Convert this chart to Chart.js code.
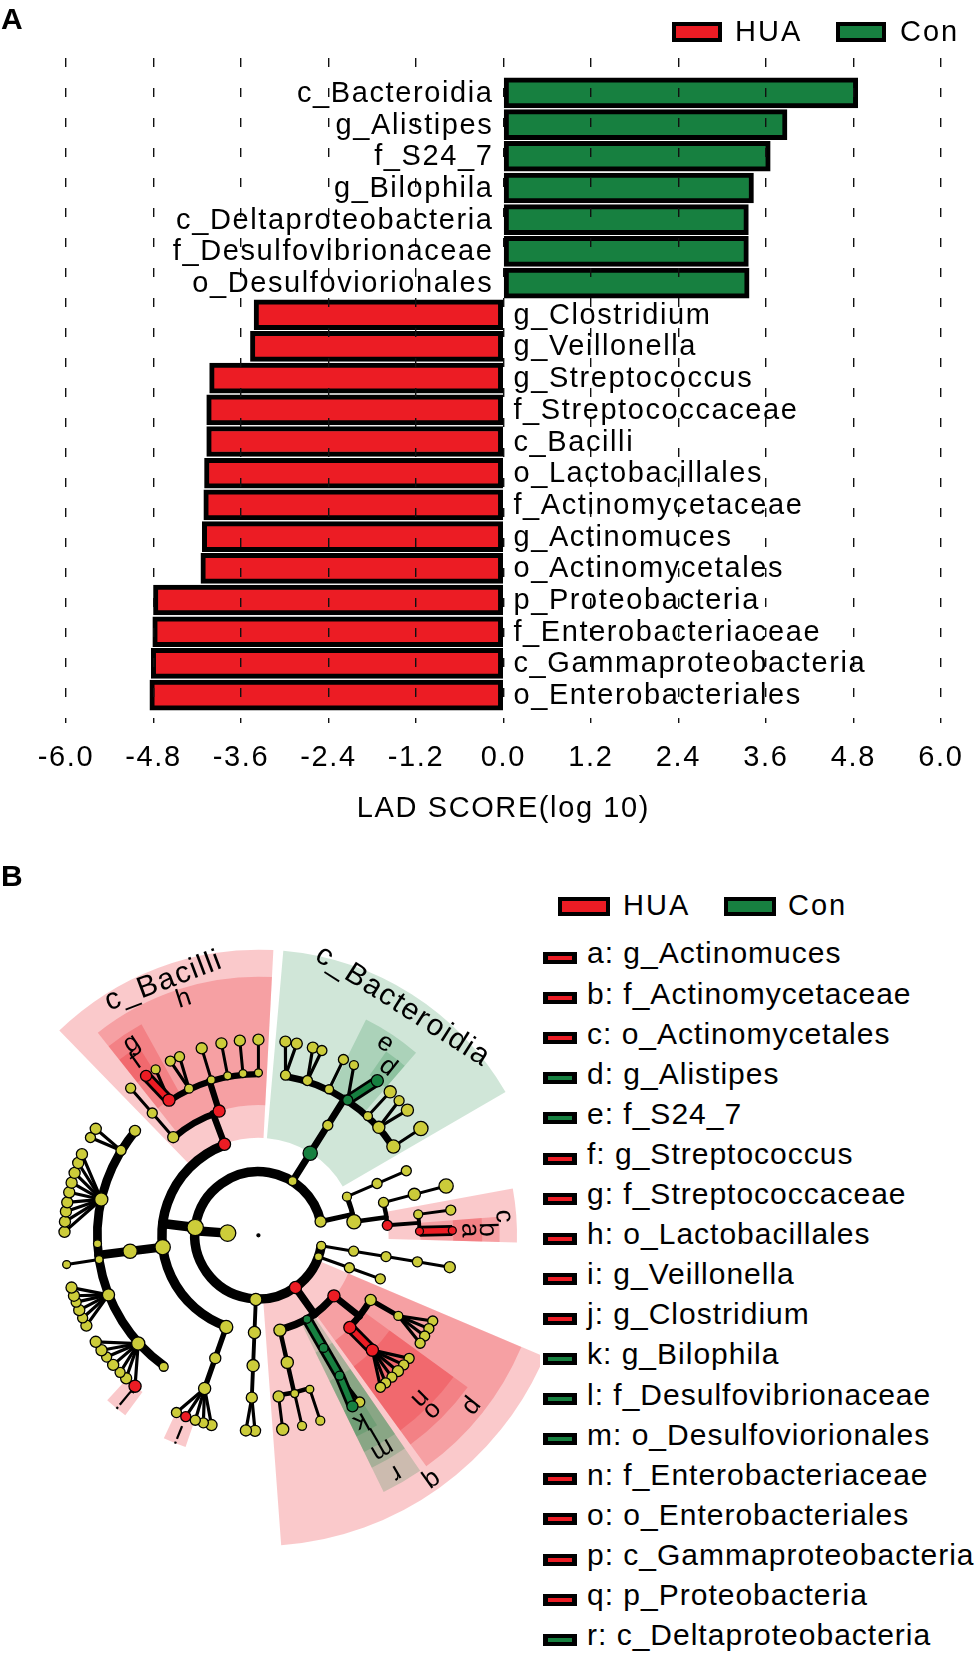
<!DOCTYPE html>
<html><head><meta charset="utf-8">
<script src="https://cdn.jsdelivr.net/npm/chart.js@4.4.1/dist/chart.umd.min.js"></script>
<style>
html,body{margin:0;padding:0;background:#fff;}
body{width:979px;height:1658px;position:relative;overflow:hidden;font-family:'Liberation Sans',Arial,Helvetica,sans-serif;color:#000;}
.abs{position:absolute;white-space:nowrap;}
.panel{font-weight:bold;font-size:30px;line-height:30px;}
.lg{font-size:29px;line-height:29px;letter-spacing:2px;}
.box{position:absolute;box-sizing:border-box;border:4px solid #000;}
.item{font-size:30px;line-height:30px;letter-spacing:1px;}
.mini{position:absolute;width:34px;height:12px;background:#000;}
.mini i{position:absolute;left:5px;top:4px;width:24px;height:4px;}
</style></head>
<body>
<canvas id="cA" class="abs" style="left:0;top:0" width="979" height="840"></canvas>
<canvas id="cB" class="abs" style="left:0;top:860px" width="540" height="700"></canvas>
<div class="abs panel" style="left:1px;top:4px">A</div>
<div class="abs panel" style="left:1px;top:861px">B</div>
<div id="legA"></div>
<div id="legB"></div>
<script>
// ---------------- DATA ----------------
const barLabels = ['c_Bacteroidia','g_Alistipes','f_S24_7','g_Bilophila','c_Deltaproteobacteria',
  'f_Desulfovibrionaceae','o_Desulfoviorionales','g_Clostridium','g_Veillonella','g_Streptococcus',
  'f_Streptococcaceae','c_Bacilli','o_Lactobacillales','f_Actinomycetaceae','g_Actinomuces',
  'o_Actinomycetales','p_Proteobacteria','f_Enterobacteriaceae','c_Gammaproteobacteria','o_Enterobacteriales'];
const barValues = [4.86, 3.89, 3.66, 3.43, 3.36, 3.36, 3.37, -3.42, -3.47, -4.03,
  -4.07, -4.07, -4.10, -4.11, -4.13, -4.15, -4.80, -4.81, -4.83, -4.85];
const tickValues = [-6.0, -4.8, -3.6, -2.4, -1.2, 0.0, 1.2, 2.4, 3.6, 4.8, 6.0];
const tickLabels = ['-6.0','-4.8','-3.6','-2.4','-1.2','0.0','1.2','2.4','3.6','4.8','6.0'];
const axisTitle = 'LAD SCORE(log 10)';
const groups = ['HUA', 'Con'];

const legendKeys = ['a','b','c','d','e','f','g','h','i','j','k','l','m','n','o','p','q','r'];
const legendNames = ['g_Actinomuces','f_Actinomycetaceae','o_Actinomycetales','g_Alistipes','f_S24_7',
  'g_Streptococcus','f_Streptococcaceae','o_Lactobacillales','g_Veillonella','g_Clostridium','g_Bilophila',
  'f_Desulfovibrionaceae','o_Desulfoviorionales','f_Enterobacteriaceae','o_Enterobacteriales',
  'c_Gammaproteobacteria','p_Proteobacteria','c_Deltaproteobacteria'];
const legendGroups = ['HUA','HUA','HUA','Con','Con','HUA','HUA','HUA','HUA','HUA','Con','Con','Con',
  'HUA','HUA','HUA','HUA','Con'];

// cladogram: T(props, ...children); a = leaf angle (deg, clockwise from top), ab = abundance score
function T(props, ...kids) { return Object.assign({kids: kids}, props); }
const phylumA = T({ab:2}, T({ab:2.5}, T({ab:2.5}, T({ab:2.5}, T({a:99.4, ab:3})))));
const phylumB = T({ab:1.5}, T({ab:2.5}, T({a:109.5, ab:2.5})));
const proteobacteria = T({g:'HUA', key:'q', ab:3.5},
  T({g:'HUA', key:'p', ab:3.5},
    T({ab:3}, T({ab:2}, T({a:116, ab:2.5}), T({a:118.5, ab:2.5}), T({a:121, ab:2.5}), T({a:123.5, ab:2.5}))),
    T({g:'HUA', key:'o', ab:3.5}, T({g:'HUA', key:'n', ab:3.5},
      T({a:129, ab:2.5}), T({a:131.5, ab:2.5}), T({a:134, ab:3}), T({a:136.5, ab:2.5}), T({a:139, ab:2.5}), T({a:141, ab:2.5})))),
  T({g:'Con', key:'r', ab:1.5}, T({g:'Con', key:'m', ab:2}, T({g:'Con', key:'l', ab:2},
    T({a:148.5, ab:2.5}), T({a:151, ab:3, g:'Con', key:'k'})))),
  T({ab:3.5}, T({ab:3.5}, T({ab:1.5}, T({a:161.4, ab:2})), T({ab:1.5}, T({a:167, ab:2})), T({ab:3}, T({a:172.8, ab:3.5})))));
const phylumC = T({ab:3.5}, T({ab:3.5}, T({ab:3.5}, T({ab:3}, T({a:181, ab:3}), T({a:183.7, ab:3})))));
const firmicutes = T({ab:5.5},
  T({ab:4}, T({ab:3}, T({ab:3.5}, T({a:194, ab:3}), T({a:196.5, ab:2.5}), T({a:199, ab:2.5}),
    T({a:202, ab:2.5, g:'HUA', key:'i'}), T({a:205, ab:2.5})))),
  T({ab:5}, T({ab:4.5},
    T({a:216, ab:2}),
    T({ab:4}, T({a:219.5, ab:3.5, g:'HUA', key:'j'}), T({a:223, ab:3}), T({a:225.5, ab:2.5}), T({a:228.5, ab:3}),
      T({a:231.5, ab:2.5}), T({a:234, ab:3}), T({a:237, ab:3})),
    T({ab:3.5}, T({a:242.5, ab:3}), T({a:245, ab:2.5}), T({a:247.5, ab:3}), T({a:250, ab:2.5}), T({a:252, ab:3}), T({a:254.5, ab:3})),
    T({ab:1.5}, T({a:261.4, ab:1.5})),
    T({a:267, ab:1.5}),
    T({ab:4}, T({a:271, ab:3}), T({a:274, ab:3}), T({a:277, ab:3}), T({a:279.7, ab:3}), T({a:282.7, ab:3}),
      T({a:285.6, ab:3}), T({a:288.6, ab:3}), T({a:291.7, ab:3}), T({a:294.5, ab:3})),
    T({ab:2.5}, T({a:300, ab:2.5}), T({a:303, ab:3})),
    T({a:310, ab:3}))),
  T({g:'HUA', name:'c_Bacilli', ab:3.5},
    T({ab:3}, T({ab:2.5}, T({a:318.8, ab:2.5}))),
    T({g:'HUA', key:'h', ab:3.5},
      T({g:'HUA', key:'g', ab:3.5}, T({a:324.6, ab:3, g:'HUA', key:'f'}), T({a:328, ab:2})),
      T({ab:2}, T({a:333, ab:2.5}), T({a:336, ab:2.5})),
      T({ab:1.5}, T({a:343, ab:3})),
      T({ab:1.5}, T({a:349, ab:3})),
      T({ab:1.5}, T({a:354.5, ab:3})),
      T({ab:1.5}, T({a:360, ab:3})))));
const bacteroidetes = T({ab:2},
  T({g:'Con', name:'c_Bacteroidia', ab:4.5},
    T({ab:2.5},
      T({ab:2.5}, T({a:8, ab:3}), T({a:11.4, ab:3})),
      T({ab:2.5}, T({a:16.3, ab:3}), T({a:19.1, ab:2.5})),
      T({ab:2}, T({a:26, ab:2.5})),
      T({g:'Con', key:'e', ab:2.5}, T({a:29.5, ab:2}), T({a:37.8, ab:3.5, g:'Con', key:'d'})),
      T({ab:2}, T({a:42.8, ab:3.5})),
      T({ab:3.5}, T({a:46.5, ab:2.5}), T({a:50.2, ab:3.5})),
      T({ab:4}, T({a:56.9, ab:4.5})))));
const actinobacteria = T({ab:3},
  T({ab:2}, T({ab:2.5}, T({a:66.6, ab:2.5}))),
  T({ab:4.5},
    T({ab:2.5}, T({ab:3.5}, T({a:75.4, ab:4.5}))),
    T({g:'HUA', key:'c', ab:2.5},
      T({ab:2}, T({a:82.6, ab:2.5})),
      T({g:'HUA', key:'b', ab:1.5}, T({a:88.6, ab:1.5, g:'HUA', key:'a'})))));
const cladeTree = T({root:true}, T({ab:5.5}, phylumA, phylumB, proteobacteria, phylumC, firmicutes, bacteroidetes, actinobacteria));

// ---------------- STYLE ----------------
const FONT = "'Liberation Sans', Arial, Helvetica, sans-serif";
const RED = '#ec1c24', GREEN = '#178040';
const groupColor = {HUA: RED, Con: GREEN};
const shadeColor = {HUA: 'rgba(236,28,36,0.24)', Con: 'rgba(22,128,61,0.20)'};
const YELLOW = '#cccc3a';
const RADII = [0, 32, 66, 100, 134, 167, 201];
const OUTER = {2: 322, 3: 296, 4: 268, 5: 250, 6: 232};

// ---------------- LEGENDS (HTML) ----------------
function addBox(parent, left, top, w, h, color) {
  const d = document.createElement('div'); d.className = 'box';
  Object.assign(d.style, {left: left+'px', top: top+'px', width: w+'px', height: h+'px', background: color});
  parent.appendChild(d);
}
function addText(parent, cls, left, top, txt) {
  const d = document.createElement('div'); d.className = 'abs ' + cls;
  d.style.left = left + 'px'; d.style.top = top + 'px'; d.textContent = txt; parent.appendChild(d);
}
const legA = document.getElementById('legA');
const legAX = [[672, 735], [836, 900]];
groups.forEach((g, i) => { addBox(legA, legAX[i][0], 22, 50, 20, groupColor[g]); addText(legA, 'lg', legAX[i][1], 17, g); });
const legB = document.getElementById('legB');
const legBX = [[558, 623], [724, 788]];
groups.forEach((g, i) => { addBox(legB, legBX[i][0], 897, 52, 19, groupColor[g]); addText(legB, 'lg', legBX[i][1], 891, g); });
legendKeys.forEach((k, i) => {
  const m = document.createElement('div'); m.className = 'mini';
  m.style.left = '543px'; m.style.top = (952 + i * 40.1) + 'px';
  const s = document.createElement('i'); s.style.background = groupColor[legendGroups[i]]; m.appendChild(s);
  legB.appendChild(m);
  addText(legB, 'item', 587, 938.4 + i * 40.1, k + ': ' + legendNames[i]);
});

// ---------------- CHART A ----------------
const spacingPlugin = { id: 'spacing', beforeDraw(chart) { chart.ctx.letterSpacing = '1.6px'; } };
const barLabelPlugin = {
  id: 'barLabels',
  afterDraw(chart) {
    const {ctx, scales: {x, y}} = chart;
    ctx.save();
    ctx.font = '29px ' + FONT; ctx.fillStyle = '#000'; ctx.letterSpacing = '1.6px'; ctx.textBaseline = 'middle';
    const x0 = x.getPixelForValue(0);
    barLabels.forEach((lab, i) => {
      const yy = y.getPixelForValue(i) + 1;
      if (barValues[i] >= 0) { ctx.textAlign = 'right'; ctx.fillText(lab, x0 - 10, yy); }
      else { ctx.textAlign = 'left'; ctx.fillText(lab, x0 + 10, yy); }
    });
    ctx.restore();
  }
};
new Chart(document.getElementById('cA'), {
  type: 'bar',
  data: { datasets: [{
    data: barValues.map((v, i) => ({x: v, y: i})),
    backgroundColor: barValues.map(v => v < 0 ? groupColor.HUA : groupColor.Con),
    borderColor: '#000', borderWidth: 5, borderSkipped: false, barThickness: 30
  }]},
  options: {
    responsive: false, animation: false, events: [], indexAxis: 'y',
    layout: { padding: { left: 66, right: 31, top: 58, bottom: 0 } },
    plugins: { legend: { display: false }, tooltip: { enabled: false } },
    scales: {
      x: {
        type: 'linear', min: -6, max: 6, offset: false,
        afterBuildTicks: s => { s.ticks = tickValues.map(v => ({value: v})); },
        afterFit: s => { s.height = 117; },
        ticks: { color: '#000', padding: 18, font: { family: FONT, size: 29 }, maxRotation: 0, autoSkip: false,
                 callback: (v, i) => tickLabels[i] },
        grid: { color: '#111', lineWidth: 1.4, drawTicks: false, z: 1, offset: false },
        border: { display: false, dash: [9, 21] },
        title: { display: true, text: axisTitle, color: '#000', font: { family: FONT, size: 29 }, padding: { top: 0, bottom: 14 } }
      },
      y: { type: 'linear', display: false, reverse: true, min: -1.1, max: 19.88, offset: false, grid: { offset: false } }
    }
  },
  plugins: [spacingPlugin, barLabelPlugin]
});

// ---------------- CHART B (cladogram) ----------------
function layoutTree(root) {
  let offset = 0, prev = null; const list = [];
  (function walk(node, level) {
    node.level = level; node.r = RADII[level]; list.push(node);
    if (!node.kids.length) {
      let a = node.a + offset;
      if (prev !== null && a < prev - 90) { offset += 360; a += 360; }
      node.ang = a; node.min = a; node.max = a; node.n = 1; prev = a;
    } else {
      node.kids.forEach(k => walk(k, level + 1));
      node.min = Math.min(...node.kids.map(k => k.min));
      node.max = Math.max(...node.kids.map(k => k.max));
      node.n = node.kids.reduce((s, k) => s + k.n, 0);
      node.ang = (node.min + node.max) / 2;
    }
  })(root, 0);
  return list;
}
const nodes = layoutTree(cladeTree);
const pol = (r, a) => ({x: r * Math.sin(a * Math.PI / 180), y: r * Math.cos(a * Math.PI / 180)});
const wOf = n => Math.max(2.8, Math.min(9.5, 1.5 + 1.5 * Math.log2(n.n + 1)));

const cladePlugin = {
  id: 'clade',
  beforeDatasetsDraw(chart) {
    const {ctx, scales: {x, y}} = chart;
    const cx = x.getPixelForValue(0), cy = y.getPixelForValue(0);
    const R = r => x.getPixelForValue(r) - cx;
    const P = (r, a) => { const p = pol(r, a); return [x.getPixelForValue(p.x), y.getPixelForValue(p.y)]; };
    const rad = a => (a - 90) * Math.PI / 180;
    ctx.save();
    nodes.filter(n => n.g).sort((a, b) => a.level - b.level).forEach(n => {
      const a1 = rad(n.min - 3), a2 = rad(n.max + 3);
      ctx.beginPath();
      ctx.arc(cx, cy, R(OUTER[n.level]), a1, a2);
      ctx.arc(cx, cy, R(n.r + 1), a2, a1, true);
      ctx.closePath(); ctx.fillStyle = shadeColor[n.g]; ctx.fill();
    });
    ctx.strokeStyle = '#000'; ctx.lineCap = 'round';
    const colored = [];
    nodes.forEach(n => {
      if (!n.kids.length || n.root) return;
      const straight = n.kids.length === 1 || n.kids.every(k => !k.kids.length);
      if (straight) {
        const w = n.kids.length === 1 ? wOf(n) : 3.2;
        n.kids.forEach(k => {
          ctx.lineWidth = w; ctx.beginPath();
          ctx.moveTo(...P(n.r, n.ang)); ctx.lineTo(...P(k.r, k.ang)); ctx.stroke();
          if (n.g && k.g === n.g) colored.push([n, k]);
        });
      } else {
        const cr = RADII[n.level + 1];
        ctx.lineWidth = wOf(n); ctx.beginPath();
        ctx.moveTo(...P(n.r, n.ang)); ctx.lineTo(...P(cr, n.ang)); ctx.stroke();
        const mins = Math.min(...n.kids.map(k => k.ang)), maxs = Math.max(...n.kids.map(k => k.ang));
        ctx.beginPath(); ctx.arc(cx, cy, R(cr), rad(mins), rad(maxs)); ctx.stroke();
      }
    });
    ctx.lineCap = 'butt';
    colored.forEach(([n, k]) => {
      ctx.beginPath(); ctx.moveTo(...P(n.r, n.ang)); ctx.lineTo(...P(k.r, k.ang));
      ctx.strokeStyle = '#000'; ctx.lineWidth = 11; ctx.stroke();
      ctx.strokeStyle = groupColor[n.g]; ctx.lineWidth = 5.5; ctx.stroke();
    });
    ctx.restore();
  },
  afterDatasetsDraw(chart) {
    const {ctx, scales: {x, y}} = chart;
    const P = (r, a) => { const p = pol(r, a); return [x.getPixelForValue(p.x), y.getPixelForValue(p.y)]; };
    nodes.filter(n => n.key || n.name).forEach(n => {
      const isName = !!n.name;
      const [px, py] = P(OUTER[n.level] - (isName ? 17 : 13), n.ang);
      ctx.save(); ctx.translate(px, py); ctx.rotate(n.ang * Math.PI / 180);
      ctx.font = (isName ? 30 : 26) + 'px ' + FONT; ctx.letterSpacing = isName ? '1.5px' : '0px';
      ctx.fillStyle = '#000'; ctx.textAlign = 'center'; ctx.textBaseline = 'middle';
      ctx.fillText(isName ? n.name : n.key, 0, 0); ctx.restore();
    });
  }
};
function nodeSet(list, color, fixedR) {
  return {
    data: list.map(n => pol(n.r, n.ang)),
    pointRadius: list.map(n => fixedR || (2.4 + 1.05 * (n.ab || 1))),
    pointBackgroundColor: color, pointBorderColor: '#000', pointBorderWidth: 1.3,
    showLine: false, clip: false
  };
}
const realNodes = nodes.filter(n => !n.root);
new Chart(document.getElementById('cB'), {
  type: 'scatter',
  data: { datasets: [
    nodeSet(realNodes.filter(n => n.g === 'HUA'), RED),
    nodeSet(realNodes.filter(n => n.g === 'Con'), GREEN),
    nodeSet(realNodes.filter(n => !n.g), YELLOW),
    nodeSet(nodes.filter(n => n.root), '#000', 1.5)
  ]},
  options: {
    responsive: false, animation: false, events: [],
    layout: { padding: 0 },
    plugins: { legend: { display: false }, tooltip: { enabled: false } },
    scales: {
      x: { type: 'linear', min: -258, max: 282, display: false },
      y: { type: 'linear', min: -324, max: 376, display: false }
    }
  },
  plugins: [cladePlugin]
});
</script>
</body></html>
